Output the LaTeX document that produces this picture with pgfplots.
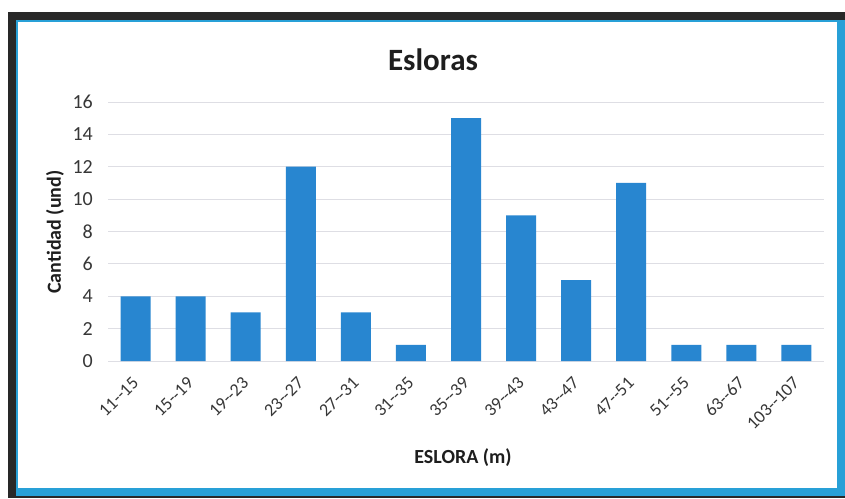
\documentclass[border=0pt]{standalone}
\usepackage{pgfplots}
\pgfplotsset{compat=1.18}
\usepackage{fontspec}
\setmainfont{Carlito}
\definecolor{barblue}{RGB}{40,134,208}
\definecolor{framedark}{RGB}{40,40,40}
\definecolor{frameblue}{RGB}{40,160,215}
\definecolor{gridgray}{RGB}{222,222,228}
\definecolor{ticktext}{RGB}{55,55,55}
\definecolor{labeltext}{RGB}{30,30,30}
\begin{document}
\begin{tikzpicture}
  % page background and frame
  \fill[white] (0pt,0pt) rectangle (845pt,498pt);
  \fill[framedark] (8pt,0pt) rectangle (845pt,486pt);
  \fill[frameblue] (16pt,2pt) rectangle (845pt,478pt);
  \fill[white] (18pt,10pt) rectangle (837pt,476pt);
  \begin{axis}[
    at={(108pt,137pt)}, anchor=south west,
    scale only axis, width=716pt, height=259pt,
    ybar, bar width=30pt,
    xmin=-0.5, xmax=12.5, ymin=0, ymax=16,
    xtick=data,
    xticklabels={11-{}-15,15-{}-19,19-{}-23,23-{}-27,27-{}-31,31-{}-35,35-{}-39,39-{}-43,43-{}-47,47-{}-51,51-{}-55,63-{}-67,103-{}-107},
    ytick={0,2,...,16},
    major tick length=0pt,
    axis line style={draw=none},
    axis x line*=bottom, axis y line*=left,
    ymajorgrids, grid style={gridgray, line width=0.9pt},
    /pgf/number format/assume math mode=true,
    tick label style={text=ticktext},
    yticklabel style={inner sep=0pt, font=\fontsize{20}{24}\selectfont},
    yticklabel shift=15pt,
    xticklabel style={rotate=45, anchor=east, inner sep=0pt, font=\fontsize{18}{22}\selectfont},
    xticklabel shift=19pt,
    clip=false,
  ]
    \addplot[fill=barblue, draw=none] coordinates {
      (0,4) (1,4) (2,3) (3,12) (4,3) (5,1) (6,15)
      (7,9) (8,5) (9,11) (10,1) (11,1) (12,1)
    };
  \end{axis}
  \node[text=labeltext, font=\fontsize{31}{37}\selectfont\bfseries] at (433pt,438pt) {Esloras};
  \node[text=labeltext, font=\fontsize{20}{24}\selectfont\bfseries] at (463pt,40pt) {ESLORA (m)};
  \node[text=labeltext, font=\fontsize{20}{24}\selectfont\bfseries, rotate=90] at (55pt,266pt) {Cantidad (und)};
\end{tikzpicture}
\end{document}
